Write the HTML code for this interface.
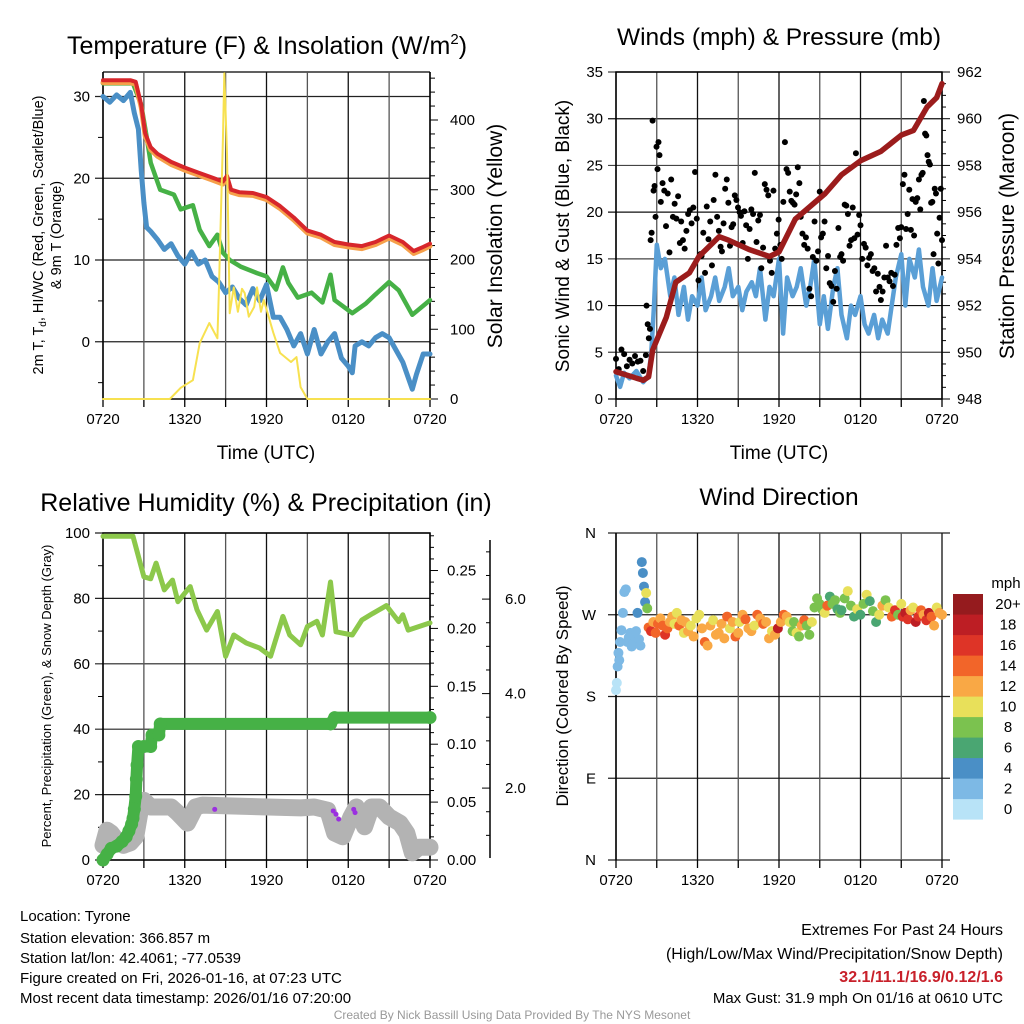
<!DOCTYPE html>
<html><head><meta charset="utf-8"><style>
html,body{margin:0;padding:0;background:#fff;}
svg{display:block;font-family:"Liberation Sans",Arial,sans-serif;}
</style></head><body>
<svg id="c" width="1024" height="1024" viewBox="0 0 1024 1024" xmlns="http://www.w3.org/2000/svg">
<rect x="0" y="0" width="1024" height="1024" fill="#fff"/>
<text x="267" y="54" font-size="25" text-anchor="middle">Temperature (F) &amp; Insolation (W/m<tspan dy="-10" font-size="15">2</tspan><tspan dy="10">)</tspan></text>
<text x="779" y="45" font-size="24.5" text-anchor="middle">Winds (mph) &amp; Pressure (mb)</text>
<text x="266" y="511" font-size="25" text-anchor="middle">Relative Humidity (%) &amp; Precipitation (in)</text>
<text x="779" y="505" font-size="24.5" text-anchor="middle">Wind Direction</text>
<text x="266" y="459" font-size="19" text-anchor="middle">Time (UTC)</text>
<text x="779" y="459" font-size="19" text-anchor="middle">Time (UTC)</text>
<text transform="translate(43,235) rotate(-90)" font-size="14.5" text-anchor="middle">2m T, T<tspan dy="3" font-size="10">d</tspan><tspan dy="-3">, HI/WC (Red, Green, Scarlet/Blue)</tspan></text>
<text transform="translate(61,235) rotate(-90)" font-size="14.5" text-anchor="middle">&amp; 9m T (Orange)</text>
<text transform="translate(502,236) rotate(-90)" font-size="21" text-anchor="middle">Solar Insolation (Yellow)</text>
<text transform="translate(569,236) rotate(-90)" font-size="19" text-anchor="middle">Sonic Wind &amp; Gust (Blue, Black)</text>
<text transform="translate(1014,236) rotate(-90)" font-size="21" text-anchor="middle">Station Pressure (Maroon)</text>
<text transform="translate(51,696) rotate(-90)" font-size="13" text-anchor="middle">Percent, Precipitation (Green), &amp; Snow Depth (Gray)</text>
<text transform="translate(568,696) rotate(-90)" font-size="17" text-anchor="middle">Direction (Colored By Speed)</text>
<g font-size="15">
<text x="20" y="921">Location: Tyrone</text>
<text x="20" y="943">Station elevation: 366.857 m</text>
<text x="20" y="963">Station lat/lon: 42.4061; -77.0539</text>
<text x="20" y="983">Figure created on Fri, 2026-01-16, at 07:23 UTC</text>
<text x="20" y="1003">Most recent data timestamp: 2026/01/16 07:20:00</text>
</g>
<g font-size="16" text-anchor="end">
<text x="1003" y="935">Extremes For Past 24 Hours</text>
<text x="1003" y="959">(High/Low/Max Wind/Precipitation/Snow Depth)</text>
<text x="1003" y="982" font-weight="bold" fill="#c8202a">32.1/11.1/16.9/0.12/1.6</text>
<text x="1003" y="1003" font-size="15">Max Gust: 31.9 mph On 01/16 at 0610 UTC</text>
</g>
<text x="512" y="1019" font-size="12" fill="#999" text-anchor="middle">Created By Nick Bassill Using Data Provided By The NYS Mesonet</text>
<g id="plots"></g>
</svg>
<script>
// ---------- DATA ----------
const timeLabels = ["0720","1320","1920","0120","0720"];
const redT = [0,1,2,2.4,2.8,3.1,3.5,4,5,6,7,8,8.8,9.1,9.4,10,11,12,13,14,15,16,17,18,19,20,21,22,22.8,23.5,24];
const redV = [32,32,32,31.8,29,25.5,23.8,23,22,21.3,20.7,20.1,19.6,20.3,18.6,18.3,18.2,17.7,16.6,15.2,13.6,13.1,12.2,11.9,11.7,12.2,13.0,12.2,11.1,11.6,12.0];
const orangeV = [31.7,31.7,31.7,31.5,28.7,25.2,23.5,22.7,21.7,21.0,20.4,19.8,19.3,20.0,18.3,18.0,17.9,17.4,16.3,14.9,13.3,12.8,11.9,11.6,11.4,11.9,12.7,11.9,10.8,11.3,11.7];
const greenT = [0,1,2.2,2.8,3.2,3.5,4.2,5.2,5.7,6.6,7.1,7.8,8.4,8.8,9.3,10.1,11.3,12,12.7,13.2,13.6,14.3,15.3,16.1,16.7,17,18.3,19.3,20,21,21.7,22.7,24];
const greenV = [31.6,31.6,31.6,29,25.1,21.9,18.6,18,16.2,16.7,13.7,11.7,13.1,10.9,10,9.2,8.4,8.0,6.4,9.1,7.2,5.4,6,4.8,8.2,5.1,3.5,4.7,5.8,7.3,6.3,3.3,5.1];
const blueT = [0,0.5,1,1.5,2,2.3,2.6,2.8,3,3.2,3.5,4,4.5,5,5.5,6,6.5,7,7.5,8,8.5,9,9.5,10,10.5,11,11.5,12,12.5,13,13.5,14,14.5,15,15.5,16,16.5,17,17.5,18,18.3,18.5,19,19.5,20,20.5,21,21.5,22,22.7,23,23.5,24];
const blueV = [30,29.3,30.2,29.5,30.5,28,26,21,17,14,13.5,12.5,11.3,12,10.5,9.5,11,9.5,10,8,7.3,6,6.7,5.3,4.5,6.5,5,7,3,3,1.5,-0.5,1,-1.5,1.5,-1.5,0,1,-2,-3,-3.8,-0.5,0,-0.5,0.5,1,0.5,-1,-2.5,-5.8,-4,-1.5,-1.5];
const solT = [0,4.9,5.7,6.6,7.1,7.8,8.4,8.5,8.8,8.9,9.1,9.3,9.6,9.9,10.2,10.4,10.7,11.1,11.3,11.6,11.8,12.5,13,13.8,14.2,14.5,15,24];
const solV = [0,0,16,27,80,109,87,152,371,467,352,123,160,125,158,152,118,132,160,125,142,95,66,53,60,17,0,0];
const presT = [0,2,2.4,2.7,3.7,4.4,5.4,6.1,7.6,8.3,9.8,11.3,12,13.2,14.2,15.4,16.6,18,19.5,21,21.9,22.9,23.6,24];
const presV = [949.17,948.8,948.95,950.1,951.5,953,953.4,954.1,954.95,954.8,954.4,954.1,954.3,955.7,956.2,956.8,957.6,958.2,958.6,959.3,959.5,960.5,960.9,961.5];
const windT = [0,0.3,0.6,1,1.5,2,2.4,2.6,2.8,3,3.3,3.6,4,4.3,4.6,5,5.3,5.6,6,6.3,6.6,7,7.3,7.6,8,8.3,8.6,9,9.3,9.6,10,10.3,10.6,11,11.3,11.6,12,12.3,12.6,13,13.3,13.6,14,14.3,14.6,15,15.3,15.6,16,16.3,16.6,17,17.3,17.6,18,18.3,18.6,19,19.3,19.6,20,20.3,20.6,21,21.3,21.6,22,22.3,22.6,23,23.3,23.6,24];
const windV = [2.5,1.3,2.8,2.2,3,1.8,2.5,5,10,16.5,14,15,11,13,9,12,8.5,11,10,13,9.5,11,13,10.5,12,14,11,12,9.5,11.5,12.5,11,14,8.5,12,11,15,7,13,11,12,14,10,12,15,8,11,7.5,12,14,9,6.5,10,9,11,8,7,9,6.5,8.5,7,10,13,15.5,10,15,13,16,12,10,14,10.5,13];
const gustSegs = [
 [0,2.2,[4.3,3.2,5.3,4.8,3.5,4.2,3.8,4.6,4.0,4.1,3.0,4.7]],
 [2.25,2.5,[10,8,6.5,7.5]],
 [2.55,3.2,[17,17.8,29.8,22.3,22.8,19.5,27,24.6,27.5,26.1]],
 [3.3,4.7,[21.1,23.1,22.3,18.5,22,15.7,23.5,19.5,20.9,19.3,21.7,16.7]],
 [4.8,6.2,[19,17,16.1,18,19.8,20.2,18.8,20.5,24.3,19.3,12.7,15.5]],
 [6.3,7.7,[15.3,17.8,13.5,20.6,17.1,19,14.3,21.3,24,19.5,18,16.3]],
 [7.8,9.1,[15.8,18.8,22.5,23.5,21,16.4,18.4,18.7,21.8,21.3,20.5,20]],
 [9.2,10.6,[19.6,16.7,20.1,18.6,15,18.2,20.3,19.8,24.2,16.8,19.1,19.7]],
 [10.7,12.1,[14,16.2,23,22.4,21.8,14.8,13.5,22.3,16.1,17.7,19.2,16.5]],
 [12.2,13.5,[15,21.1,27.5,24.6,24.2,22.2,21.2,21,20.8,21.9,24.8,23.1]],
 [13.6,15.0,[19.5,17.7,16.5,17.3,16.1,11.8,11,15.2,19,14.8,15.8,22.2]],
 [15.1,16.5,[17.3,17.7,19,14,15.3,12.4,12.1,10.4,13.7,11.8,18.3,15.2]],
 [16.6,17.9,[15.5,14.8,20.8,20.7,19.8,16.4,17,20.5,17.2,26.3,17.6,19.7]],
 [18.0,19.4,[18.6,15,16.6,16.2,14.3,15.1,15.5,13.7,14,11.5,13.4,12]],
 [19.5,20.9,[10.6,11.5,13,16.4,13,12.6,13.5,12.1,13.3,16.5,18.3,17.2]],
 [21.0,22.3,[18.4,23,24,18.2,19.8,22.4,18.1,21.4,17.5,21.1,21.5,23.5]],
 [22.4,24,[20.3,24,24.2,31.9,28.4,28.2,26.1,25.4,25.1,21,21.1,15.5,22.5,22,17.7,14.5,19.4,22.5,17]]
];
const rhT = [0,1,2.2,3,3.5,3.9,4.5,5.1,5.5,6.4,6.9,7.6,8.4,9.0,9.6,10.5,11.5,12.3,13.2,13.7,14.5,15,15.7,16.1,16.7,17.1,18.3,19,19.8,20.8,21.7,22,22.4,24];
const rhV = [99,99,99,86.6,86,90.8,82.6,85.6,79,83.6,76.5,70.3,76,62.3,68.8,66.4,64.8,62.3,74.5,68.8,65.8,71.4,73,68.8,85,69.8,68.8,73.4,75.4,77.8,72.9,75,70.3,72.5];
const prT = [0,0.3,0.6,1,1.4,1.7,1.9,2.1,2.2,2.3,2.4,2.45,2.5,2.6,3,3.5,3.6,4.1,4.2,16.7,17,24];
const prV = [0,0.005,0.01,0.012,0.016,0.02,0.025,0.031,0.036,0.044,0.055,0.07,0.082,0.098,0.098,0.098,0.108,0.108,0.1175,0.1175,0.123,0.123];
const snT = [0,0.3,0.6,1,1.5,2,2.4,2.7,3,3.5,5,5.5,6.2,6.8,7.3,14.5,15.5,16.5,17,17.6,18.2,18.6,19.2,19.7,20.3,21,21.8,22.3,22.7,23.2,24];
const snV = [0.79,1.11,1.05,0.9,0.79,0.84,0.97,1.47,1.74,1.6,1.6,1.47,1.26,1.6,1.64,1.58,1.6,1.53,1.05,0.97,1.39,1.6,1.18,1.6,1.6,1.39,1.26,1.05,0.63,0.75,0.75];
const purpleT = [8.2,16.9,17.1,17.3,18.4,18.5];
const purpleRH = [15.5,15,14,12.5,15.5,14.5];
const dirSegs = [
 [0,0.3,[187,195,213,228,220,240],[0.5,1,2,2,2,2]],
 [0.4,1.8,[253,272,295,298,240,245,250,235,238,246,252,272,243,236],[2,2,2,2,2,2,3,2,2,2,3,4,2,2]],
 [1.9,2.3,[328,316,301,284,294,277],[4,4,4,4,10,8]],
 [2.4,5,[256,252,262,250,260,266,258,248,255,262,268,260,272,258,264,250],[14,16,13,15,14,12,14,16,15,13,12,10,11,14,12,10]],
 [5.1,9,[262,252,258,246,266,270,255,240,236,258,264,248,250,260,244,268,255,262,246,250],[12,12,10,12,10,10,12,14,12,12,10,12,12,12,12,14,10,12,14,12]],
 [9.1,13,[262,270,265,255,252,258,270,266,260,262,244,252,248,255,262,270,268,262,252],[10,12,14,12,12,10,14,12,14,12,12,10,12,18,12,14,12,10,8]],
 [13.1,16.5,[262,250,246,258,264,258,248,262,278,288,282,276,272,280,290,282,286,276,272],[8,10,8,12,14,8,8,10,8,8,8,8,10,14,6,8,8,6,8]],
 [16.6,21,[275,288,296,280,268,276,270,282,292,285,274,262,270,280,286,278,268,275,270,282],[6,8,10,8,6,10,6,8,10,6,8,6,10,12,8,10,14,16,8,10]],
 [21.1,24,[268,272,265,275,278,262,268,275,270,264,272,268,258,278,272,270],[16,18,16,12,10,18,16,14,12,16,18,14,12,10,12,12]]
];
const speedLabels = ["0","2","4","6","8","10","12","14","16","18","20+"];
const speedColors = ["#b8e3f7","#7db9e5","#4a8fc6","#4aa672","#7bc24f","#e8e05a","#f9a845","#f26529","#de3427","#bd1e24","#951b1e"];

// ---------- HELPERS ----------
const NS="http://www.w3.org/2000/svg";
const root=document.getElementById('plots');
function mk(parent,tag,attrs,name){
  const el=document.createElementNS(NS,tag);
  for(const k in attrs) el.setAttribute(k,attrs[k]);
  
  
  parent.appendChild(el); return el;
}
function txt(parent,x,y,s,size,anchor,name){
  const t=mk(parent,'text',{x:x,y:y,'font-size':size,'text-anchor':anchor},name);
  t.textContent=s; return t;
}
function poly(parent,T,V,xf,yf,color,w,name){
  const pts=T.map((t,i)=>xf(t).toFixed(1)+','+yf(V[i]).toFixed(1)).join(' ');
  return mk(parent,'polyline',{points:pts,fill:'none',stroke:color,'stroke-width':w,'stroke-linejoin':'round','stroke-linecap':'round'},name);
}
function timeAxis(g,x0,x1,yb,ytop,grid,name){
  for(let i=0;i<=8;i++){
    const x=x0+(x1-x0)*i/8;
    if(grid) mk(g,'line',{x1:x,y1:ytop,x2:x,y2:yb,stroke:(i%2? '#555':'#111'),'stroke-width':1.3},name+'-vgrid');
    mk(g,'line',{x1:x,y1:yb,x2:x,y2:yb+8,stroke:'#000','stroke-width':1.3},name+'-xtick');
    if(i%2===0) txt(g,x,yb+25,timeLabels[i/2],15,'middle',name+'-xlabel');
  }
}

// ---------- PANEL 1: temperature ----------
(function(){
  const g=mk(root,'g',{},'temperature-panel');
  const X0=103,X1=430,Y0=72,Y1=399;
  const xf=t=>X0+t*(X1-X0)/24, yf=v=>Y1-(v+7)*327/40, ys=v=>Y1-v*0.6975;
  [0,10,20,30].forEach(v=>{mk(g,'line',{x1:X0-8,y1:yf(v),x2:X1,y2:yf(v),stroke:'#222','stroke-width':1.2},'temp-hgrid');txt(g,X0-13,yf(v)+5,String(v),15,'end','temp-ytick-label');});
  [-5,5,15,25].forEach(v=>mk(g,'line',{x1:X0-5,y1:yf(v),x2:X0,y2:yf(v),stroke:'#000'},'temp-minor-tick'));
  mk(g,'line',{x1:X0,y1:Y0,x2:X1,y2:Y0,stroke:'#000','stroke-width':1.3},'temp-top-border');
  timeAxis(g,X0,X1,Y1,Y0,true,'temp');
  for(let v=0;v<=460;v+=20){const y=ys(v);const maj=v%100===0;mk(g,'line',{x1:X1,y1:y,x2:X1+(maj?8:5),y2:y,stroke:'#000'},'solar-tick');if(maj)txt(g,X1+20,y+5,String(v),15,'start','solar-tick-label');}
  mk(g,'line',{x1:X0,y1:Y0,x2:X0,y2:Y1,stroke:'#000','stroke-width':1.5},'temp-left-axis');
  mk(g,'line',{x1:X1,y1:Y0,x2:X1,y2:Y1,stroke:'#000','stroke-width':1.5},'temp-right-axis');
  mk(g,'line',{x1:X0,y1:Y1,x2:X1,y2:Y1,stroke:'#000','stroke-width':1.5},'temp-bottom-axis');
  poly(g,blueT,blueV,xf,yf,'#4a8fc6',5,'windchill-line');
  poly(g,greenT,greenV,xf,yf,'#46b146',4.5,'dewpoint-line');
  poly(g,redT,orangeV,xf,yf,'#f6a04a',5,'temp-9m-line');
  poly(g,redT,redV,xf,yf,'#d7262b',4,'temp-2m-line');
  poly(g,solT,solV,xf,ys,'#f7e150',2,'solar-line');
})();

// ---------- PANEL 2: winds ----------
(function(){
  const g=mk(root,'g',{},'wind-panel');
  const X0=616,X1=942,Y0=72,Y1=399;
  const xf=t=>X0+t*(X1-X0)/24, yf=v=>Y1-v*327/35, yp=p=>Y1-(p-948)*327/14;
  for(let v=0;v<=35;v+=5){mk(g,'line',{x1:X0-8,y1:yf(v),x2:X1,y2:yf(v),stroke:(v%10? '#444':'#111'),'stroke-width':1.2},'wind-hgrid');txt(g,X0-13,yf(v)+5,String(v),15,'end','wind-ytick-label');}
  timeAxis(g,X0,X1,Y1,Y0,true,'wind');
  for(let p=948;p<=962;p+=0.5){const y=yp(p);const maj=p%2===0;mk(g,'line',{x1:X1,y1:y,x2:X1+(maj?8:4),y2:y,stroke:'#000'},'pressure-tick');if(maj)txt(g,X1+15,y+5,String(p),15,'start','pressure-tick-label');}
  mk(g,'rect',{x:X0,y:Y0,width:X1-X0,height:Y1-Y0,fill:'none',stroke:'#000','stroke-width':1.5},'wind-frame');
  poly(g,windT,windV,xf,yf,'#5a9fd6',4.5,'wind-speed-line');
  gustSegs.forEach(s=>{const n=s[2].length;s[2].forEach((v,i)=>{const t=s[0]+(n>1?(s[1]-s[0])*i/(n-1):0);mk(g,'circle',{cx:xf(t),cy:yf(v),r:3,fill:'#000'},'gust-point');});});
  poly(g,presT,presV,xf,yp,'#9b1c1c',5.5,'pressure-line');
})();

// ---------- PANEL 3: RH & precip ----------
(function(){
  const g=mk(root,'g',{},'rh-panel');
  const X0=103,X1=430,Y0=533,Y1=860;
  const xf=t=>X0+t*(X1-X0)/24, yr=v=>Y1-v*3.27, ypr=v=>Y1-v*327/0.2824, ysn=v=>882.6-v*47.25;
  for(let v=0;v<=100;v+=20){mk(g,'line',{x1:X0-8,y1:yr(v),x2:X1,y2:yr(v),stroke:'#222','stroke-width':1.2},'rh-hgrid');txt(g,X0-13,yr(v)+5,String(v),15,'end','rh-ytick-label');}
  for(let v=10;v<100;v+=20)mk(g,'line',{x1:X0-5,y1:yr(v),x2:X0,y2:yr(v),stroke:'#000'},'rh-minor-tick');
  timeAxis(g,X0,X1,Y1,Y0,true,'rh');
  for(let k=0;k<=28;k++){const v=k*0.01;const y=ypr(v);const maj=k%5===0;mk(g,'line',{x1:X1,y1:y,x2:X1+(maj?8:4),y2:y,stroke:'#000'},'precip-tick');if(maj)txt(g,X1+17,y+5,v.toFixed(2),15,'start','precip-tick-label');}
  mk(g,'line',{x1:490,y1:540,x2:490,y2:858,stroke:'#000','stroke-width':1.5},'snow-axis');
  for(let k=1;k<=14;k++){const v=k*0.5;const y=ysn(v);if(y<540||y>858)continue;const maj=k%4===0;mk(g,'line',{x1:490,y1:y,x2:490-(maj?8:4),y2:y,stroke:'#000'},'snow-tick');if(maj)txt(g,505,y+5,v.toFixed(1),15,'start','snow-tick-label');}
  mk(g,'rect',{x:X0,y:Y0,width:X1-X0,height:Y1-Y0,fill:'none',stroke:'#000','stroke-width':1.5},'rh-frame');
  poly(g,snT,snV,xf,ysn,'#b3b3b3',17,'snow-depth-line');
  poly(g,rhT,rhV,xf,yr,'#8cc84b',5,'rh-line');
  poly(g,prT,prV,xf,ypr,'#46b146',12,'precip-line');
  prT.forEach((t,i)=>mk(g,'circle',{cx:xf(t),cy:ypr(prV[i]),r:6.5,fill:'#46b146'},'precip-point'));
  purpleT.forEach((t,i)=>mk(g,'circle',{cx:xf(t),cy:yr(purpleRH[i]),r:2.5,fill:'#9b30e0'},'purple-point'));
})();

// ---------- PANEL 4: direction ----------
(function(){
  const g=mk(root,'g',{},'direction-panel');
  const X0=616,X1=942,Y0=533,Y1=860;
  const xf=t=>X0+t*(X1-X0)/24, yd=d=>Y1-d*327/360;
  const dl=["N","E","S","W","N"];
  for(let i=0;i<=4;i++){const y=yd(i*90);mk(g,'line',{x1:X0-8,y1:y,x2:X1+8,y2:y,stroke:'#222','stroke-width':1.2},'dir-hgrid');txt(g,X0-20,y+5,dl[i],15,'end','dir-ytick-label');}
  timeAxis(g,X0,X1,Y1,Y0,true,'dir');
  mk(g,'line',{x1:X0,y1:Y0,x2:X0,y2:Y1,stroke:'#000','stroke-width':1.5},'dir-left-axis');
  dirSegs.forEach(s=>{const n=s[2].length;s[2].forEach((d,i)=>{const t=s[0]+(n>1?(s[1]-s[0])*i/(n-1):0);const bin=Math.min(10,Math.floor(s[3][i]/2));mk(g,'circle',{cx:xf(t),cy:yd(d),r:5,fill:speedColors[bin]},'direction-point');});});
  txt(g,1006,588,'mph',15,'middle','colorbar-title');
  for(let i=0;i<11;i++){const y=594+(10-i)*20.5;mk(g,'rect',{x:953,y:y,width:30,height:20.6,fill:speedColors[i]},'colorbar-box');txt(g,1008,y+15,speedLabels[i],15,'middle','colorbar-label');}
})();
</script>
</body></html>
